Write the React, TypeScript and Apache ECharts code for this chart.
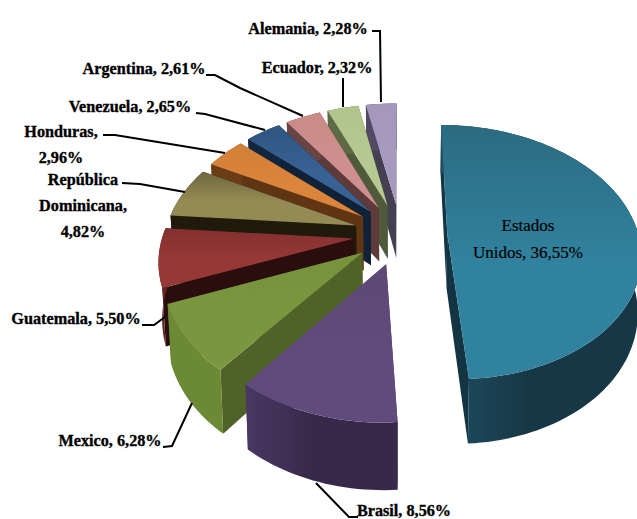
import React, { useEffect, useRef } from "react";
import * as echarts from "echarts";

const countries = ["Estados Unidos", "Brasil", "Mexico", "Guatemala", "República Dominicana", "Honduras", "Venezuela", "Argentina", "Ecuador", "Alemania"];
const shares = [36.55, 8.56, 6.28, 5.5, 4.82, 2.96, 2.65, 2.61, 2.32, 2.28];

const topFill = [
  ["#2B6B80", "#31829F"], ["#5D4876", "#614B7C"], ["#76933C", "#7A963E"], ["#83302F", "#973836"],
  ["#6F6840", "#948A54"], ["#D27F38", "#DB843C"], ["#2F5580", "#386294"], ["#C98A88", "#CE908E"],
  ["#B0C58C", "#B5C991"], ["#A497BC", "#A79ABF"],
];
const radialFill = ["#133442", "#4C3A66", "#4F6228", "#2A0D0D", "#1F1A0C", "#5F3514", "#0F2238", "#5E3B3B", "#4F5A3B", "#453F52"];
const outerFill = [
  ["#1F4E62", "#163745"], ["#483862", "#38294A"], ["#6C8A35", "#6C8A35"], ["#632523", "#632523"],
  ["#1F1A0C", "#1F1A0C"], ["#6B3D17", "#6B3D17"], ["#122640", "#122640"], ["#6A4443", "#6A4443"],
  ["#5C6A45", "#5C6A45"], ["#524A63", "#524A63"],
];

// Draw order: back to front
const drawOrder = [0, 9, 8, 7, 6, 5, 4, 3, 2, 1];

// Perspective projection of the pie's plane
const CX = 400.5, CY = 234, SCALE_X = 191, SCALE_Y = 124.6, PERSP = 0.15, EXPLODE = 0.245, DEPTH = 55;

const total = shares.reduce((a, b) => a + b, 0);
const startAngles: number[] = [];
shares.reduce((acc, v) => { startAngles.push(acc); return acc + v; }, 0);

function project(u: number, v: number, bottom: boolean): number[] {
  const s = 1 / (1 - PERSP * v);
  const x = SCALE_X * u * s;
  const y = CY + SCALE_Y * v * s;
  if (!bottom) return [CX + x, y];
  return [CX + x * 0.985, y + DEPTH * s];
}

function renderSlice(params: any) {
  const i = drawOrder[params.dataIndex];
  const a0 = (startAngles[i] / total) * Math.PI * 2;
  const a1 = ((startAngles[i] + shares[i]) / total) * Math.PI * 2;
  const mid = (a0 + a1) / 2;
  const eu = EXPLODE * Math.sin(mid);
  const ev = -EXPLODE * Math.cos(mid);
  const rim = (t: number, bottom: boolean) => project(eu + Math.sin(t), ev - Math.cos(t), bottom);
  const apexTop = project(eu, ev, false);
  const apexBottom = project(eu, ev, true);
  const steps = Math.max(4, Math.ceil((a1 - a0) / 0.03));
  const rimTop: number[][] = [];
  const rimBottom: number[][] = [];
  for (let k = 0; k <= steps; k++) {
    const t = a0 + ((a1 - a0) * k) / steps;
    rimTop.push(rim(t, false));
    rimBottom.push(rim(t, true));
  }
  const vgrad = (c: string[]) => ({ type: "linear", x: 0, y: 0, x2: 0, y2: 1, colorStops: [{ offset: 0, color: c[0] }, { offset: 0.55, color: c[1] }, { offset: 1, color: c[1] }] });
  const hgrad = (c: string[]) => ({ type: "linear", x: 0, y: 0, x2: 1, y2: 0, colorStops: [{ offset: 0, color: c[0] }, { offset: 0.45, color: c[1] }, { offset: 1, color: c[1] }] });
  const poly = (points: number[][], fill: any) => ({ type: "polygon", shape: { points }, style: { fill, stroke: null } });
  return {
    type: "group",
    children: [
      poly([apexTop, rimTop[0], rimBottom[0], apexBottom], radialFill[i]),
      poly([apexTop, rimTop[steps], rimBottom[steps], apexBottom], radialFill[i]),
      poly([...rimTop, ...rimBottom.slice().reverse()], hgrad(outerFill[i])),
      poly([apexTop, ...rimTop], vgrad(topFill[i])),
    ],
  };
}

const pct = (i: number) => shares[i].toFixed(2).replace(".", ",") + "%";
const labelFont = { fontFamily: "'Liberation Serif', serif", fontWeight: "bold", fontSize: 17, fill: "#000", stroke: "#000", lineWidth: 0.35, textAlign: "center", textVerticalAlign: "middle" };

const labelLines: [number, string[], number, number][] = [
  [9, ["Alemania, " + pct(9)], 308, 28],
  [8, ["Ecuador, " + pct(8)], 317, 67],
  [7, ["Argentina, " + pct(7)], 144, 68],
  [6, ["Venezuela, " + pct(6)], 130, 106],
  [5, ["Honduras,", pct(5)], 61, 131],
  [4, ["República", "Dominicana,", pct(4)], 83, 179],
  [3, ["Guatemala, " + pct(3)], 76, 318],
  [2, ["Mexico, " + pct(2)], 110, 440],
  [1, ["Brasil, " + pct(1)], 404, 510],
];
const leaders = [
  [[372, 31], [380, 31], [381, 102]],
  [[343, 78], [343, 107]],
  [[206, 75], [215, 75], [240, 88], [303, 116]],
  [[196, 113], [205, 114], [265, 130]],
  [[103, 135], [115, 135], [225, 153]],
  [[122, 183], [140, 184], [185, 192]],
  [[142, 325], [154, 325], [165, 317]],
  [[163, 447], [172, 446], [192, 403]],
  [[358, 517], [349, 517], [316, 483]],
];

export default function App() {
  const ref = useRef<HTMLDivElement>(null);
  useEffect(() => {
    document.body.style.margin = "0";
    const chart = echarts.init(ref.current!, null, { renderer: "svg" });
    const graphics: any[] = [];
    leaders.forEach((points) => {
      graphics.push({ type: "polyline", z: 10, shape: { points }, style: { stroke: "#000", lineWidth: 2, fill: null } });
    });
    labelLines.forEach(([, lines, x, y]) => {
      lines.forEach((line, k) => {
        graphics.push({ type: "text", z: 11, x, y: y + k * 26, scaleX: 0.955, style: { ...labelFont, text: line } });
      });
    });
    [countries[0].split(" ")[0], countries[0].split(" ")[1] + ", " + pct(0)].forEach((line, k) => {
      graphics.push({ type: "text", z: 11, x: 528, y: 225 + k * 27, style: { ...labelFont, fontWeight: "normal", lineWidth: 0.2, text: line } });
    });
    chart.setOption({
      animation: false,
      backgroundColor: "#fff",
      graphic: graphics,
      series: [
        {
          type: "custom",
          coordinateSystem: "none",
          silent: true,
          renderItem: renderSlice,
          data: drawOrder.map((i) => ({ name: countries[i], value: shares[i] })),
        },
      ],
    });
    return () => chart.dispose();
  }, []);
  return <div ref={ref} style={{ position: "fixed", left: 0, top: 0, width: 637, height: 519 }} />;
}
